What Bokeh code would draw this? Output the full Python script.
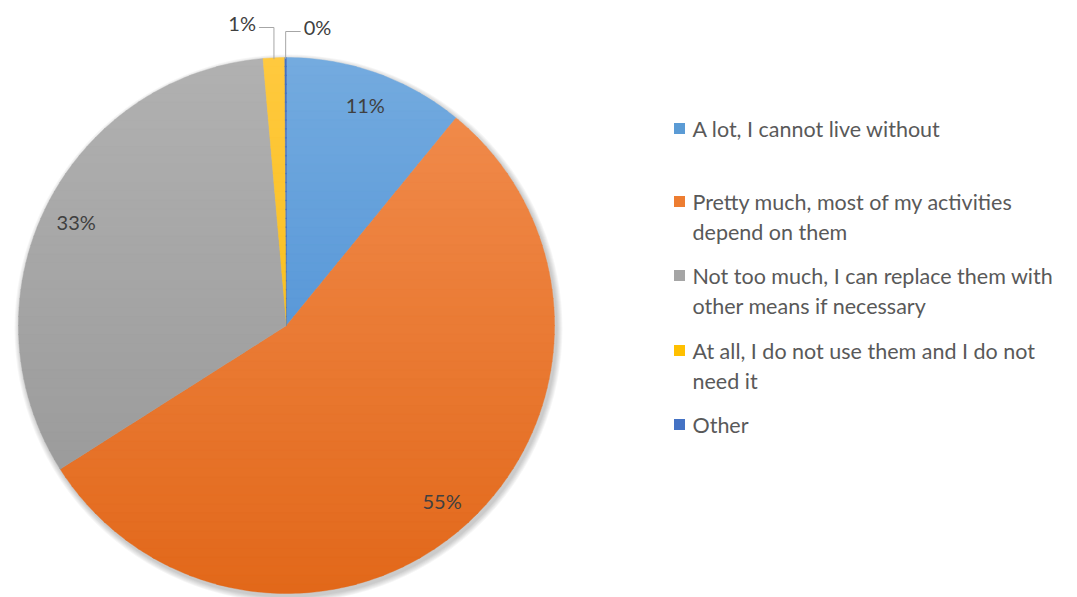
import math
import textwrap
from bokeh.plotting import figure
from bokeh.models import Range1d, ColumnDataSource
from bokeh.core.properties import value
from bokeh.embed import file_html
from bokeh.resources import INLINE

categories = [
    "A lot, I cannot live without",
    "Pretty much, most of my activities depend on them",
    "Not too much, I can replace them with other means if necessary",
    "At all, I do not use them and I do not need it",
    "Other",
]
shares = [10.9, 55.1, 32.6, 1.3, 0.1]
top_colors = ["#74ABDF", "#F28E50", "#B1B1B1", "#FFC93F", "#4472C4"]
bottom_colors = ["#3F86D2", "#E2681A", "#959595", "#F5B800", "#4472C4"]
legend_colors = ["#5B9BD5", "#ED7D31", "#A5A5A5", "#FFC000", "#4472C4"]
pct_labels = [f"{round(v):.0f}%" for v in shares]

W, H = 1077, 597
p = figure(width=W, height=H, output_backend="svg", toolbar_location=None,
           x_range=Range1d(0, W), y_range=Range1d(0, H), min_border=0)
p.axis.visible = False
p.grid.visible = False
p.outline_line_color = None
p.background_fill_color = "white"


def Y(img_y):
    return H - img_y


cx, cy, R = 286, Y(325), 268
FONT = "Lato"

# soft shadow
for k in range(6):
    p.circle(x=[cx + 2], y=[cy - 3], radius=R + 6 - k, fill_color="#000000",
             fill_alpha=0.035, line_color=None)

total = sum(shares)
starts, ends, mids = [], [], []
cum = 0.0
for v in shares:
    a0 = math.pi / 2 - cum / total * 2 * math.pi
    cum += v
    a1 = math.pi / 2 - cum / total * 2 * math.pi
    starts.append(a0)
    ends.append(a1)
    mids.append((a0 + a1) / 2)


def hex2rgb(h):
    return tuple(int(h[i:i + 2], 16) for i in (1, 3, 5))


def mix(c1, c2, t):
    a, b = hex2rgb(c1), hex2rgb(c2)
    return "#%02x%02x%02x" % tuple(round(a[i] + (b[i] - a[i]) * t) for i in range(3))


def clip(poly, ylo, yhi):
    def clip_edge(pts, keep, inter):
        out = []
        n = len(pts)
        for i in range(n):
            cur, prev = pts[i], pts[i - 1]
            if keep(cur):
                if not keep(prev):
                    out.append(inter(prev, cur))
                out.append(cur)
            elif keep(prev):
                out.append(inter(prev, cur))
        return out

    def at_y(yv):
        def f(a, b):
            t = (yv - a[1]) / (b[1] - a[1])
            return (a[0] + (b[0] - a[0]) * t, yv)
        return f

    pts = clip_edge(poly, lambda q: q[1] >= ylo, at_y(ylo))
    if not pts:
        return []
    pts = clip_edge(pts, lambda q: q[1] <= yhi, at_y(yhi))
    return pts


xs, ys, fills = [], [], []
NSTRIP = 60
strip_h = 2 * R / NSTRIP
for i in range(len(shares)):
    n = max(3, int(abs(ends[i] - starts[i]) / (2 * math.pi) * 400))
    poly = [(cx, cy)] + [
        (cx + R * math.cos(starts[i] + (ends[i] - starts[i]) * k / n),
         cy + R * math.sin(starts[i] + (ends[i] - starts[i]) * k / n))
        for k in range(n + 1)
    ]
    for s in range(NSTRIP):
        yhi = cy + R - s * strip_h
        ylo = yhi - strip_h
        part = clip(poly, ylo - 0.4, yhi + 0.4)
        if len(part) >= 3:
            xs.append([q[0] for q in part])
            ys.append([q[1] for q in part])
            fills.append(mix(top_colors[i], bottom_colors[i], (s + 0.5) / NSTRIP))

src = ColumnDataSource(dict(xs=xs, ys=ys, color=fills))
p.patches(xs="xs", ys="ys", fill_color="color", line_color="color", line_width=0.4,
          source=src)

# inside labels
lab_color = "#404040"
for i in range(3):
    rr = R * 0.875
    p.text(x=[cx + rr * math.cos(mids[i])], y=[cy + rr * math.sin(mids[i])],
           text=[pct_labels[i]], text_align="center", text_baseline="middle",
           text_font=value(FONT), text_font_size="20px", text_color=lab_color)

# outside labels with leaders for small slices
top_y = cy + R
for i, side in ((3, -1), (4, 1)):
    ex = cx + R * math.cos(mids[i]) * 0.995
    ey = cy + R * math.sin(mids[i]) * 0.995
    elbow_y = top_y + (30 if side < 0 else 26)
    end_x = ex + side * 15
    p.line(x=[ex, ex, end_x], y=[ey, elbow_y, elbow_y], line_color="#A6A6A6", line_width=1)
    p.text(x=[end_x + side * 3], y=[elbow_y + 5], text=[pct_labels[i]],
           text_align="right" if side < 0 else "left", text_baseline="middle",
           text_font=value(FONT), text_font_size="20px", text_color=lab_color)

# legend
leg_img_y = [128, 201, 275, 350, 424]
line_gap = 30
for i, lab in enumerate(categories):
    y0 = Y(leg_img_y[i])
    p.rect(x=[679], y=[y0], width=11, height=11, fill_color=legend_colors[i], line_color=None)
    for j, ln in enumerate(textwrap.wrap(lab, 38)):
        p.text(x=[692], y=[y0 - j * line_gap], text=[ln], text_align="left",
               text_baseline="middle", text_font=value(FONT), text_font_size="21.5px",
               text_color="#595959")

open("out.html", "w").write(file_html(p, INLINE))
